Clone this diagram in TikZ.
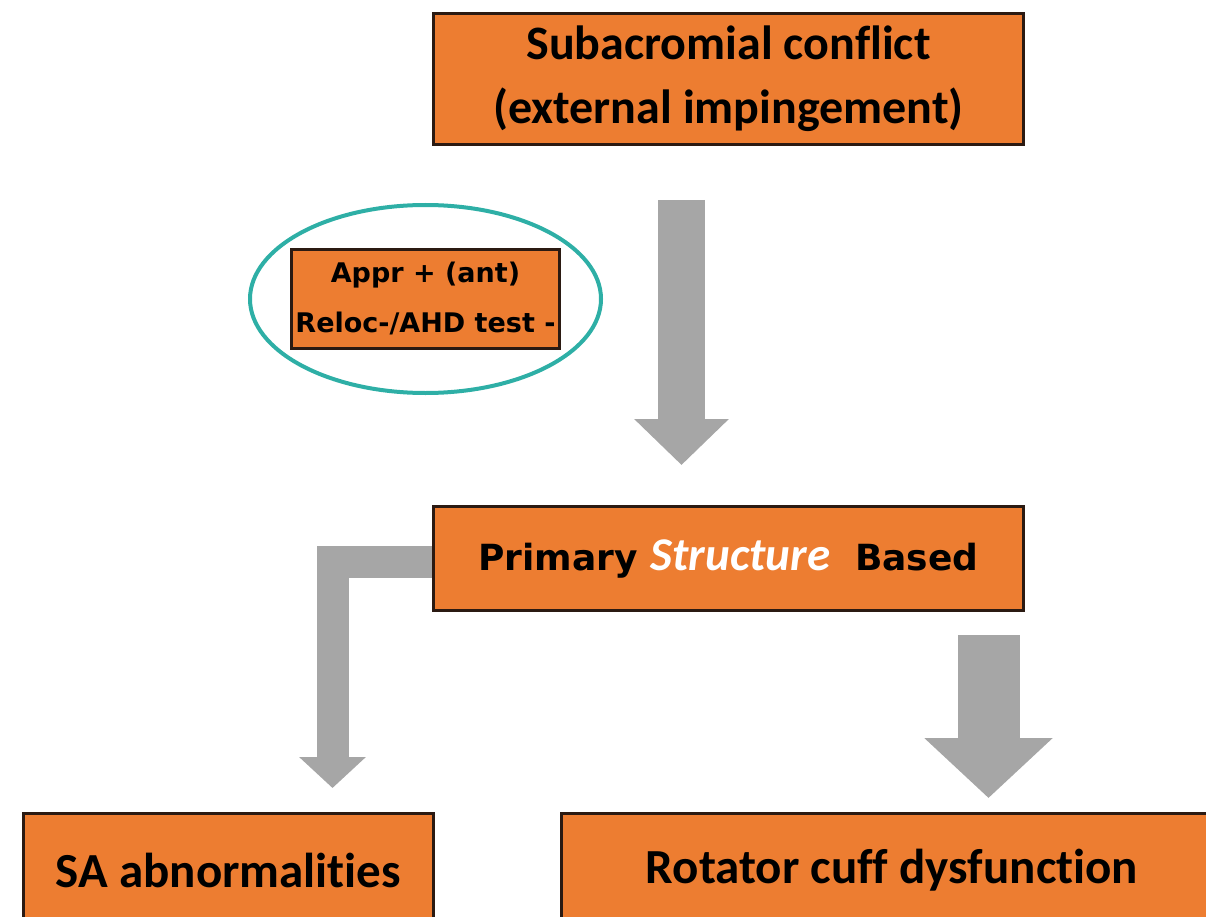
\documentclass[tikz,border=0pt]{standalone}
\usepackage{fontspec}
\setmainfont[Ligatures=NoCommon]{Carlito}
\newfontfamily\tahoma{DejaVu Sans}
\usetikzlibrary{arrows.meta,shapes.geometric}
\definecolor{boxorange}{HTML}{ED7D31}
\definecolor{boxline}{HTML}{2B1A12}
\definecolor{arrowgray}{HTML}{A6A6A6}
\definecolor{ringteal}{HTML}{2EAFA6}
\begin{document}
\begin{tikzpicture}[x=1pt, y=-1pt,
    box/.style={draw=boxline, line width=3pt, fill=boxorange, inner sep=0pt, align=center},
    fat/.style={draw=arrowgray, line width=#1, line join=miter},
    ring/.style={ellipse, draw=ringteal, line width=4pt, inner sep=0pt}]
    \useasboundingbox (0,0) rectangle (1206,917);
    \clip (0,0) rectangle (1206,917);
    % boxes
    \node[box, minimum width=590pt, minimum height=131pt, font=\bfseries\fontsize{48}{64}\selectfont] (conflict) at (728.5,79) {Subacromial conflict\\(external impingement)};
    \node[box, minimum width=268pt, minimum height=99pt, font=\tahoma\bfseries\fontsize{27}{50}\selectfont] (test) at (425.5,299) {Appr + (ant)\\Reloc-/AHD test -};
    \node[box, minimum width=590pt, minimum height=104pt, font=\tahoma\bfseries\fontsize{36}{40}\selectfont] (structure) at (728.5,558.5) {Primary {\rmfamily\bfseries\itshape\fontsize{47}{47}\selectfont\color{white}Structure}\ \ Based};
    \node[box, minimum width=410pt, minimum height=114pt, font=\bfseries\fontsize{49}{49}\selectfont] (abnorm) at (228.5,870) {SA abnormalities};
    \node[box, minimum width=661pt, minimum height=114pt, font=\bfseries\fontsize{49}{49}\selectfont] (cuff) at (892,870) {Rotator cuff dysfunction};
    \node[ring, minimum width=351pt, minimum height=188pt] (halo) at (test) {};
    % arrows
    \draw[fat=47pt, -{Triangle[length=46pt 0, width=92pt 0]}, shorten <=54pt, shorten >=40pt] ([xshift=-47pt]conflict.south) -- ([xshift=-47pt]structure.north);
    \draw[fat=32pt, -{Triangle[length=31pt 0, width=65pt 0]}, shorten >=23.5pt] ([yshift=-3.5pt]structure.west) -| ([xshift=104pt]abnorm.north);
    \draw[fat=62pt, -{Triangle[length=60pt 0, width=125pt 0]}, shorten <=23pt, shorten >=13.5pt] ([xshift=260pt]structure.south) -- ([xshift=260pt]structure.south |- cuff.north);
\end{tikzpicture}
\end{document}
